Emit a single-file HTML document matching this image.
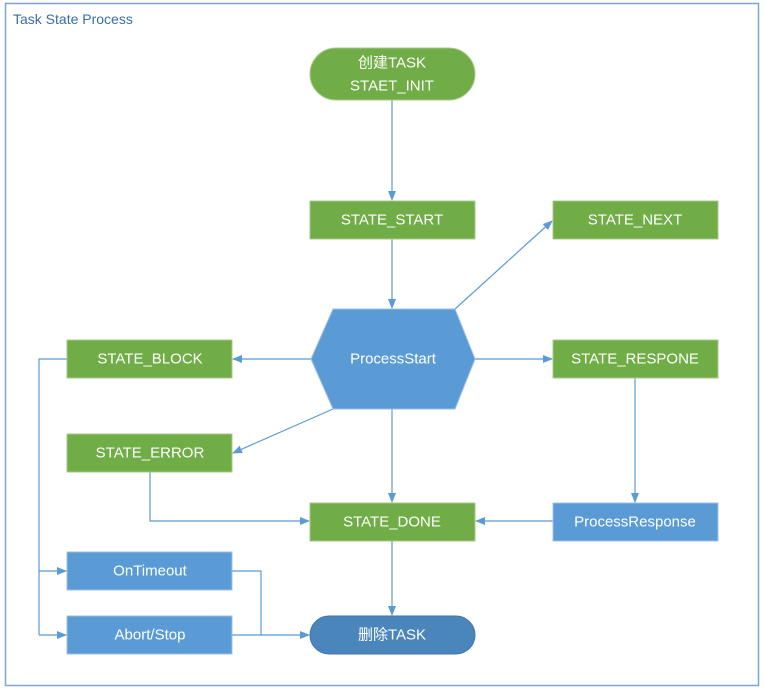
<!DOCTYPE html>
<html><head><meta charset="utf-8"><style>
body{margin:0;background:#fff;width:765px;height:692px;overflow:hidden}
svg text{font-family:"Liberation Sans","Noto Sans CJK SC",sans-serif;font-size:15px;fill:#fff;text-anchor:middle;dominant-baseline:central}
</style></head><body>
<svg width="765" height="692" xmlns="http://www.w3.org/2000/svg">
<defs><marker id="a" markerWidth="10" markerHeight="8" refX="9" refY="4" orient="auto" markerUnits="userSpaceOnUse"><path d="M0,0L10,4L0,8z" fill="#5b9bd5"/></marker></defs>
<rect x="5.5" y="3.5" width="753" height="682" fill="#fff" stroke="#7ea6d0" stroke-width="1.5"/>
<text x="13" y="19" style="fill:#3a6ea5;font-size:14px;text-anchor:start">Task State Process</text>
<g stroke="#5b9bd5" stroke-width="1.2" fill="none">
<line x1="392" y1="100" x2="392" y2="200" marker-end="url(#a)"/>
<line x1="392" y1="239" x2="392" y2="308" marker-end="url(#a)"/>
<line x1="455" y1="309" x2="552" y2="221" marker-end="url(#a)"/>
<line x1="311" y1="359" x2="233" y2="359" marker-end="url(#a)"/>
<line x1="475" y1="359" x2="552" y2="359" marker-end="url(#a)"/>
<line x1="333" y1="409" x2="233" y2="453" marker-end="url(#a)"/>
<line x1="392" y1="409" x2="392" y2="502" marker-end="url(#a)"/>
<polyline points="150,472 150,521 309,521" marker-end="url(#a)"/>
<line x1="635" y1="378" x2="635" y2="502" marker-end="url(#a)"/>
<line x1="553" y1="521" x2="476" y2="521" marker-end="url(#a)"/>
<line x1="392" y1="541" x2="392" y2="615" marker-end="url(#a)"/>
<polyline points="67,359 39,359 39,635"/>
<line x1="39" y1="571" x2="66" y2="571" marker-end="url(#a)"/>
<line x1="39" y1="635" x2="66" y2="635" marker-end="url(#a)"/>
<polyline points="232,571 261,571 261,635"/>
<line x1="232" y1="635" x2="309" y2="635" marker-end="url(#a)"/>
</g>
<g stroke="#a9c98a" stroke-width="1" fill="#70ad47">
<rect x="310" y="48" width="165" height="52" rx="26"/>
<rect x="310" y="201" width="165" height="38"/>
<rect x="553" y="201" width="165" height="38"/>
<rect x="67" y="340" width="165" height="38"/>
<rect x="553" y="340" width="165" height="38"/>
<rect x="67" y="434" width="165" height="38"/>
<rect x="310" y="503" width="165" height="38"/>
</g>
<g stroke="#9cc0e4" stroke-width="1" fill="#5b9bd5">
<polygon points="333,309 455,309 475,359 455,409 333,409 311,359"/>
<rect x="553" y="503" width="165" height="38"/>
<rect x="67" y="552" width="165" height="38"/>
<rect x="67" y="616" width="165" height="38"/>
</g>
<rect x="310" y="616" width="165" height="38" rx="19" fill="#4a86bb" stroke="#3f77aa"/>
<text x="392" y="63">创建TASK</text>
<text x="392" y="86">STAET_INIT</text>
<text x="392" y="220">STATE_START</text>
<text x="635" y="220">STATE_NEXT</text>
<text x="393" y="359">ProcessStart</text>
<text x="150" y="359">STATE_BLOCK</text>
<text x="635" y="359">STATE_RESPONE</text>
<text x="150" y="453">STATE_ERROR</text>
<text x="392" y="522">STATE_DONE</text>
<text x="635" y="522">ProcessResponse</text>
<text x="150" y="571">OnTimeout</text>
<text x="150" y="635">Abort/Stop</text>
<text x="392" y="635">删除TASK</text>
</svg>
</body></html>
